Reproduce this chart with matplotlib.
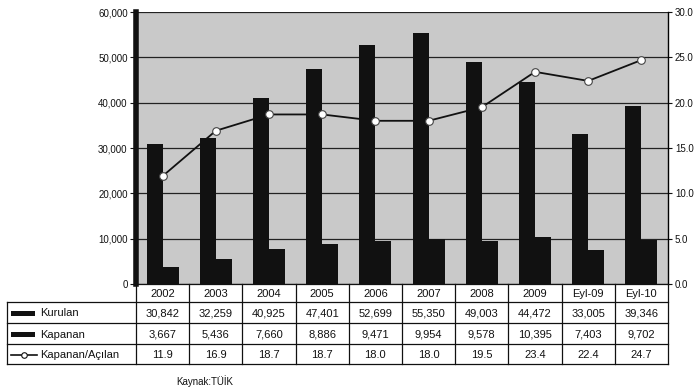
import matplotlib
matplotlib.use("Agg")
import matplotlib.pyplot as plt
from matplotlib.lines import Line2D
from matplotlib.patches import Rectangle
import numpy as np

plt.rcParams['font.family'] = ['Liberation Sans', 'DejaVu Sans']

# --- DATA ---
periods = ['2002', '2003', '2004', '2005', '2006', '2007', '2008', '2009', 'Eyl-09', 'Eyl-10']
kurulan = [30842, 32259, 40925, 47401, 52699, 55350, 49003, 44472, 33005, 39346]
kapanan = [3667, 5436, 7660, 8886, 9471, 9954, 9578, 10395, 7403, 9702]
oran = [11.9, 16.9, 18.7, 18.7, 18.0, 18.0, 19.5, 23.4, 22.4, 24.7]
row_names = ['Kurulan', 'Kapanan', 'Kapanan/Açılan']
left_ticks = [0, 10000, 20000, 30000, 40000, 50000, 60000]
right_ticks = [0, 5, 10, 15, 20, 25, 30]

# --- LAYOUT (pixels) ---
W, H = 694, 388
L, R, T, B = 136, 668, 12, 284
row_lines = [B, 302, 323, 344, 364]
TABLE_LEFT = 7

def fx(px):
    return px / W

def fy(py):
    return 1 - py / H

fig = plt.figure(figsize=(W / 100, H / 100), dpi=100)
fig.patch.set_facecolor('white')

ax = fig.add_axes([fx(L), fy(B), (R - L) / W, (B - T) / H])
ax.set_facecolor('#c9c9c9')
x = np.arange(len(periods))
ax.bar(x - 0.15, kurulan, width=0.3, color='#111111', zorder=3)
ax.bar(x + 0.15, kapanan, width=0.3, color='#111111', zorder=3)
ax.set_xlim(-0.5, len(periods) - 0.5)
ax.set_ylim(0, 60000)
ax.set_yticks(left_ticks)
ax.set_yticklabels([f"{v:,}" for v in left_ticks], fontsize=7)
ax.tick_params(axis='y', length=4, width=0.8, pad=2, colors='#111111')
ax.set_xticks([])
ax.yaxis.grid(True, color='#222222', linewidth=0.9, zorder=1)
ax.set_axisbelow(True)
for side in ['top', 'bottom', 'right']:
    ax.spines[side].set_visible(False)
ax.spines['left'].set_linewidth(4)
ax.spines['left'].set_color('#111111')

# ratio line on the secondary axis
ax2 = ax.twinx()
ax2.plot(x, oran, color='#111111', linewidth=1.3, marker='o', markersize=5.5,
         markerfacecolor='white', markeredgecolor='#444444', markeredgewidth=0.8, zorder=5)
ax2.set_ylim(0, 30)
ax2.set_yticks(right_ticks)
ax2.set_yticklabels([f"{v:.1f}" for v in right_ticks], fontsize=7)
ax2.tick_params(axis='y', length=3, width=0.8, pad=2, colors='#111111')
for side in ['top', 'bottom', 'left']:
    ax2.spines[side].set_visible(False)
ax2.spines['right'].set_linewidth(1.0)

# --- DATA TABLE ---
col_w = (R - L) / len(periods)
col_edges = [L + i * col_w for i in range(len(periods) + 1)]
lw = 0.9
for i, py in enumerate(row_lines):
    x0 = L if i == 0 else TABLE_LEFT
    fig.add_artist(Line2D([fx(x0), fx(R)], [fy(py), fy(py)], color='#111111', lw=lw))
for cx in col_edges:
    fig.add_artist(Line2D([fx(cx), fx(cx)], [fy(B), fy(row_lines[-1])], color='#111111', lw=lw))
fig.add_artist(Line2D([fx(TABLE_LEFT), fx(TABLE_LEFT)], [fy(row_lines[1]), fy(row_lines[-1])],
                      color='#111111', lw=lw))

row_text = [[f"{v:,}" for v in kurulan],
            [f"{v:,}" for v in kapanan],
            [f"{v:.1f}" for v in oran]]
for j, p in enumerate(periods):
    cx = (col_edges[j] + col_edges[j + 1]) / 2
    fig.text(fx(cx), fy((row_lines[0] + row_lines[1]) / 2 + 1), p, ha='center', va='center',
             fontsize=8, color='#111111')
    for r in range(3):
        cy = (row_lines[r + 1] + row_lines[r + 2]) / 2 + 1
        fig.text(fx(cx), fy(cy), row_text[r][j], ha='center', va='center',
                 fontsize=8, color='#111111')

# row labels with legend keys
for r, name in enumerate(row_names):
    cy = (row_lines[r + 1] + row_lines[r + 2]) / 2 + 1
    if r < 2:
        fig.add_artist(Rectangle((fx(11), fy(cy + 2.5)), 24 / W, 5 / H,
                                 facecolor='#111111', edgecolor='none'))
    else:
        # key line with the marker in its middle
        fig.add_artist(Line2D([fx(11), fx(24), fx(37)], [fy(cy)] * 3, color='#111111', lw=1.2,
                              marker='o', markevery=[1], markersize=4,
                              markerfacecolor='white', markeredgecolor='#111111',
                              markeredgewidth=0.8))
    fig.text(fx(40), fy(cy), name, ha='left', va='center', fontsize=8, color='#111111')

fig.text(fx(205), fy(381), 'Kaynak:TÜİK', ha='center', va='center', fontsize=7, color='#111111')

fig.savefig('out.png', dpi=100)
